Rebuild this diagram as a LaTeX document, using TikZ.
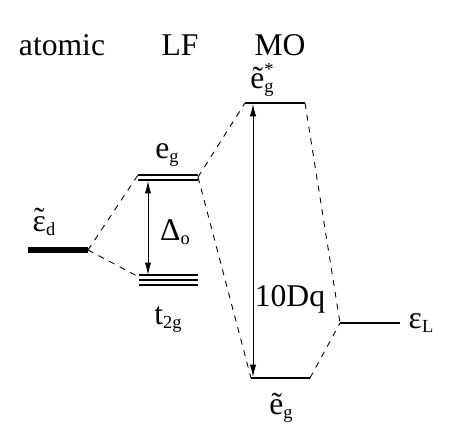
\documentclass[tikz,border=0pt]{standalone}
\usepackage{fontspec}
\setmainfont{Liberation Serif}
\usetikzlibrary{arrows.meta,positioning,calc}
\newcommand\lsub[1]{\raisebox{-2.2pt}{\fontsize{10.5}{11}\selectfont #1}}
\newcommand\tld[1]{\setbox0\hbox{#1}\rlap{\hbox to\wd0{\hss\raisebox{1pt}{\char"02DC}\hss}}\box0}
\tikzset{
  lab/.style={font=\fontsize{18}{21}\selectfont,inner sep=1pt},
  lvl/.style={line width=1.1pt},
  corr/.style={dash pattern=on 3.4pt off 3.4pt,line width=0.5pt},
  gap/.style={{Latex[length=7pt,width=3.6pt]}-{Latex[length=7pt,width=3.6pt]},line width=0.5pt}
}
\begin{document}
\begin{tikzpicture}[x=0.02cm,y=-0.02cm]
\useasboundingbox (0,0) rectangle (459,436);
% column titles
\node[lab] (tatom) at (62,45) {atomic};
\node[lab] (tlf) at (180,45) {LF};
\node[lab] (tmo) at (280,45) {MO};
% atomic d level
\coordinate (dL) at (28,250);
\coordinate (dR) at (88,250);
\draw[line width=3.4pt] (dL) -- (dR);
\node[lab] (ed) at (44,222) {\tld{ε}\lsub{d}};
% ligand field levels
\foreach \y in {175,180}{
\draw[line width=0.8pt] (138,\y) -- (198,\y);}
\foreach \y in {275,280,285}{
\draw[line width=0.8pt] (139,\y) -- (198,\y);}
\coordinate (egL) at (138,175);
\coordinate (egR) at (198,177);
\coordinate (egB) at (148,181);
\coordinate (tL) at (139,277);
\coordinate (tT) at (148,275);
\node[lab] (eg) at (167,155) {e\lsub{g}};
\node[lab] (t2g) at (168,320) {t\lsub{2g}};
\draw[gap] (egB) -- (tT);
\node[lab] (delta) at (175,232) {Δ\lsub{o}};
% molecular orbitals
\coordinate (asL) at (245,103);
\coordinate (asR) at (305,103);
\coordinate (bL) at (251,378);
\coordinate (bR) at (310,378);
\coordinate (LL) at (340,323);
\coordinate (LR) at (400,323);
\draw[lvl] (asL) -- (asR);
\draw[lvl] (bL) -- (bR);
\draw[lvl] (LL) -- (LR);
\node[lab] (eas) at (262,80) {\~{e}\rlap{\raisebox{7pt}{\fontsize{10.5}{11}\selectfont *}}\lsub{g}};
\node[lab] (eb) at (281,408) {\~{e}\lsub{g}};
\node[lab] (eL) at (421,323) {ε\lsub{L}};
\draw[gap] (253,104) -- (253,377);
\node[lab] (dq) at (290,299) {10Dq};
% correlation lines
\draw[corr] (dR) -- (egL);
\draw[corr] (dR) -- (tL);
\draw[corr] (egR) -- (asL);
\draw[corr] (egR) -- (bL);
\draw[corr] (asR) -- (LL);
\draw[corr] (bR) -- (LL);
\end{tikzpicture}
\end{document}
